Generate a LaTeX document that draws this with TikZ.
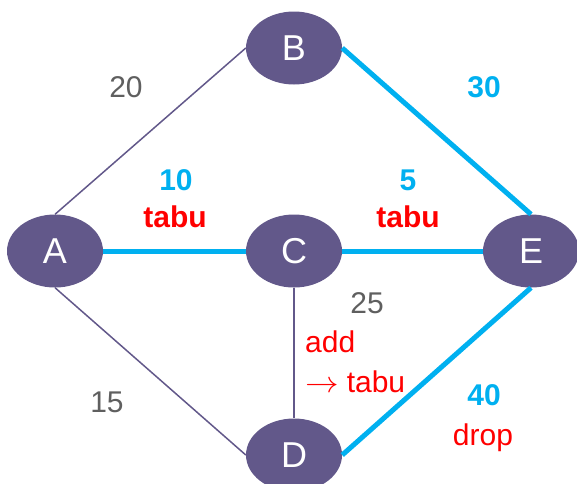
\documentclass[tikz,border=0pt]{standalone}
\usepackage{fontspec}
\setmainfont{Liberation Sans}
\usetikzlibrary{shapes.geometric}
\definecolor{nodepurple}{HTML}{62588A}
\definecolor{tabucyan}{HTML}{00B0F0}
\definecolor{labelgray}{HTML}{5F5F5F}
\tikzset{
    vertex/.style={
        ellipse,
        fill=nodepurple,
        text=white,
        minimum width=96pt,
        minimum height=73pt,
        inner sep=0pt,
        font={\fontsize{36pt}{40pt}\selectfont}
    },
    plainedge/.style={draw=nodepurple, line width=1.5pt},
    tabuedge/.style={draw=tabucyan, line width=5pt},
    weight/.style={anchor=base, inner sep=0pt, text=labelgray, font={\fontsize{30pt}{34pt}\selectfont}},
    tabuweight/.style={anchor=base, inner sep=0pt, text=tabucyan, font={\fontsize{30pt}{34pt}\selectfont\bfseries}},
    tabunote/.style={anchor=base, inner sep=0pt, text=red, font={\fontsize{30pt}{34pt}\selectfont\bfseries}},
    movenote/.style={anchor=base, inner sep=0pt, text=red, font={\fontsize{30pt}{34pt}\selectfont}},
}

\begin{document}
\begin{tikzpicture}[x=1pt, y=-1pt]
\useasboundingbox (0,0) rectangle (577,483);

\node[vertex] (a) at (55,251) {A};
\node[vertex] (b) at (294,48) {B};
\node[vertex] (c) at (294,251) {C};
\node[vertex] (e) at (531,251) {E};
\node[vertex] (d) at (294,455) {D};

\draw[plainedge] (a.north) -- (b.west);
\draw[plainedge] (a.south) -- (d.west);
\draw[plainedge] (c.south) -- (d.north);
\draw[tabuedge] (a.east) -- (c.west);
\draw[tabuedge] (c.east) -- (e.west);
\draw[tabuedge] (b.east) -- (e.north);
\draw[tabuedge] (d.east) -- (e.south);

\node[weight] (wab) at (126,97) {20};
\node[weight] (wad) at (107,412) {15};
\node[weight] (wcd) at (367,313) {25};
\node[tabuweight] (wac) at (176,190) {10};
\node[tabunote] (tac) at (175,227) {tabu};
\node[tabuweight] (wce) at (408,190) {5};
\node[tabunote] (tce) at (408,227) {tabu};
\node[tabuweight] (wbe) at (484,97) {30};
\node[tabuweight] (wde) at (484,405) {40};
\node[movenote] (dde) at (483,445) {drop};
\node[movenote, anchor=base west] (acd) at (305,352) {add};
\node[movenote, anchor=base west] (tcd) at (305,392) {\scalebox{1.35}[1.2]{$\rightarrow$}\hspace{8pt}tabu};
\end{tikzpicture}
\end{document}
